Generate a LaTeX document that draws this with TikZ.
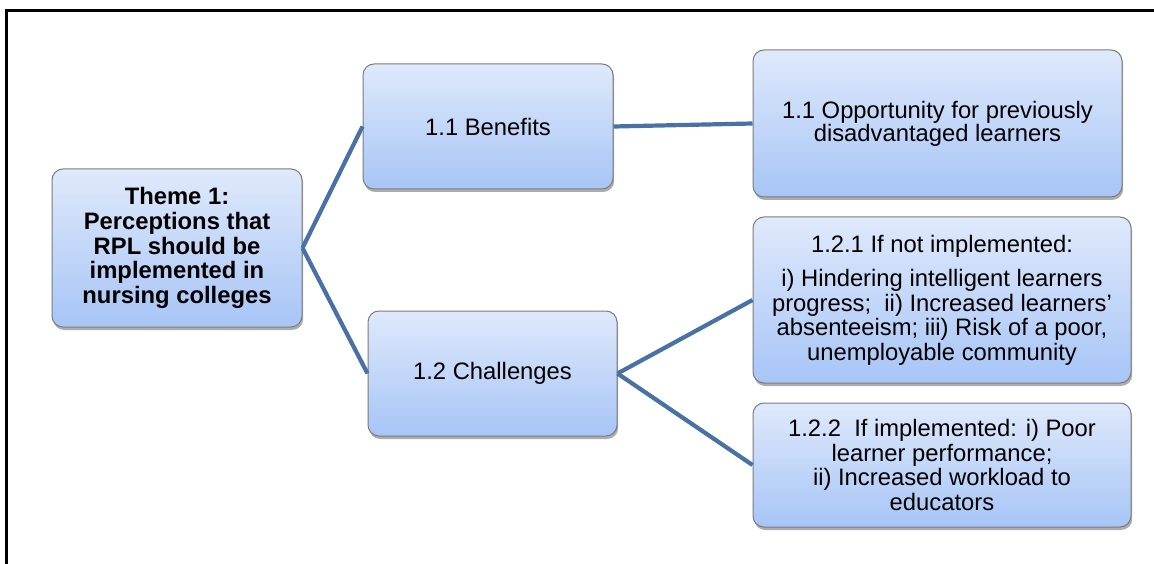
\documentclass[tikz,border=0pt]{standalone}
\usepackage{fontspec}
\setmainfont{Liberation Sans}
\usetikzlibrary{shadows}

\definecolor{boxtop}{HTML}{DFE9FB}
\definecolor{boxbot}{HTML}{A7C5F6}
\definecolor{boxedge}{HTML}{7A7C80}
\definecolor{linkblue}{HTML}{4A71A3}

\tikzset{
  topic/.style={
    draw=boxedge, line width=1pt, rounded corners=11pt,
    top color=boxtop, bottom color=boxbot,
    drop shadow={shadow xshift=1.2pt, shadow yshift=-3pt, opacity=0.32, fill=black},
    align=center, inner sep=0pt,
    font=\fontsize{23.8}{24.5}\selectfont
  },
  link/.style={draw=linkblue, line width=4.2pt}
}

\begin{document}
\begin{tikzpicture}[x=1pt, y=-1pt]
  \useasboundingbox (0,0) rectangle (1154,564);
  \fill[white] (0,0) rectangle (1154,564);

  % outer frame (only the top and left edges fall on the page)
  \draw[line width=2.2pt] (6.5,600) -- (6.5,10.5) -- (1200,10.5);

  % boxes
  \node[topic, minimum width=250pt, minimum height=158pt,
        font=\fontsize{23.8}{24.8}\selectfont\bfseries] (theme) at (177,248)
    {Theme 1:\\Perceptions that\\RPL should be\\implemented in\\nursing colleges};

  \node[topic, minimum width=250pt, minimum height=125pt] (ben) at (488,126.5)
    {1.1 Benefits};

  \node[topic, minimum width=249pt, minimum height=125pt] (chal) at (492.5,373.5)
    {1.2 Challenges};

  \node[topic, minimum width=369pt, minimum height=147pt,
        font=\fontsize{23.8}{20}\selectfont] (opp) at (937.5,123.5)
    {1.1 Opportunity for previously\\disadvantaged learners};

  \node[topic, minimum width=378pt, minimum height=166pt] (nimp) at (942,300)
    {1.2.1 If not implemented:\\[10pt]
     i) Hindering intelligent learners\\
     progress;\ \ ii) Increased learners'\\
     absenteeism; iii) Risk of a poor,\\
     unemployable community};

  \node[topic, minimum width=378pt, minimum height=124pt] (imp) at (942,465)
    {1.2.2\ \ If implemented: i) Poor\\
     learner performance;\\
     ii) Increased workload to\\
     educators};

  % connectors
  \draw[link] (theme.east) -- (ben.west);
  \draw[link] (theme.east) -- (chal.west);
  \draw[link] (ben.east) -- (opp.west);
  \draw[link] (chal.east) -- (nimp.west);
  \draw[link] (chal.east) -- (imp.west);
\end{tikzpicture}
\end{document}
